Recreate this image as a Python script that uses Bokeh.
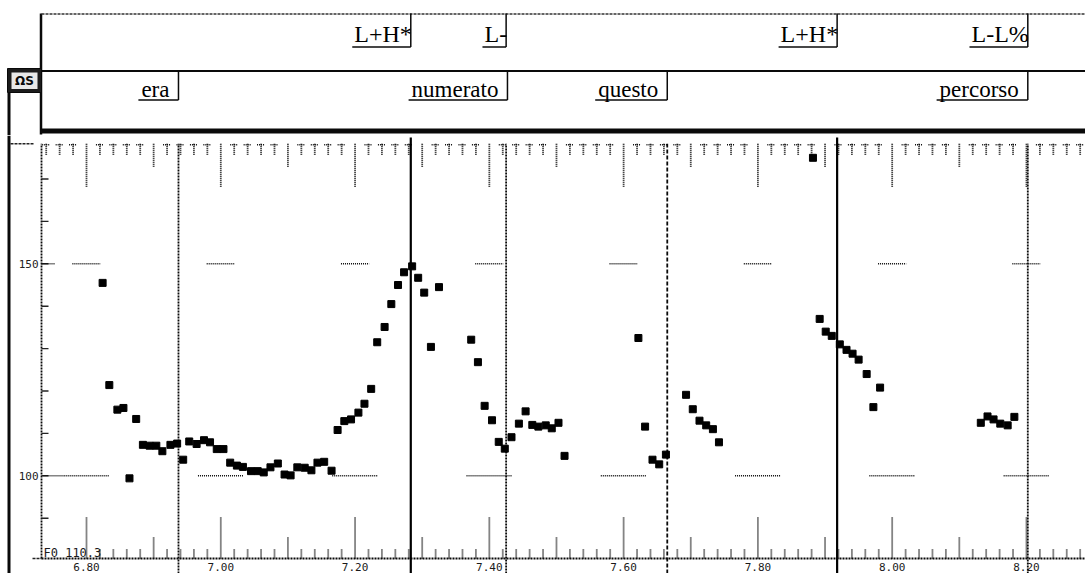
import numpy as np
from bokeh.plotting import figure
from bokeh.layouts import column
from bokeh.models import Range1d
from bokeh.core.properties import value
from bokeh.embed import file_html
from bokeh.resources import INLINE

# ---------------- data ----------------
f0_time = [6.824, 6.834, 6.846, 6.855, 6.864, 6.874, 6.884, 6.894, 6.904, 6.913,
           6.925, 6.935, 6.944, 6.953, 6.964, 6.975, 6.984, 6.994, 7.004, 7.014,
           7.024, 7.033, 7.045, 7.055, 7.064, 7.074, 7.085, 7.095, 7.104, 7.114,
           7.125, 7.135, 7.144, 7.154, 7.165, 7.174, 7.184, 7.194, 7.205, 7.214,
           7.224, 7.233, 7.244, 7.254, 7.264, 7.273, 7.285, 7.294, 7.303, 7.313,
           7.325, 7.373, 7.383, 7.393, 7.404, 7.414, 7.423, 7.433, 7.444, 7.454,
           7.464, 7.473, 7.484, 7.493, 7.503, 7.512, 7.622, 7.632, 7.643, 7.653,
           7.663, 7.693, 7.703, 7.713, 7.723, 7.733, 7.742, 7.882, 7.892, 7.901,
           7.910, 7.922, 7.932, 7.941, 7.950, 7.962, 7.972, 7.982, 8.132, 8.142,
           8.151, 8.161, 8.172, 8.182]
f0_hz = [145.5, 121.4, 115.6, 116.0, 99.4, 113.4, 107.3, 107.1, 107.1, 105.8,
         107.3, 107.6, 103.8, 108.1, 107.5, 108.4, 107.9, 106.3, 106.3, 103.1,
         102.4, 102.1, 101.1, 101.1, 100.8, 102.0, 102.9, 100.3, 100.1, 102.0,
         101.9, 101.3, 103.1, 103.3, 101.2, 110.8, 112.9, 113.3, 114.9, 117.0,
         120.5, 131.5, 135.1, 140.5, 145.0, 148.0, 149.4, 146.7, 143.2, 130.4,
         144.5, 132.1, 126.8, 116.5, 113.1, 108.0, 106.4, 109.1, 112.3, 115.2,
         112.0, 111.6, 111.9, 111.2, 112.5, 104.7, 132.5, 111.6, 103.8, 102.7,
         105.0, 119.1, 115.7, 113.0, 111.9, 111.0, 107.9, 175.0, 137.0, 134.0,
         133.0, 131.0, 129.7, 128.8, 127.4, 124.0, 116.2, 120.8, 112.5, 114.0,
         113.3, 112.3, 111.9, 113.9]

words = ["era", "numerato", "questo", "percorso"]
word_end = [6.937, 7.427, 7.665, 8.202]
tones = ["L+H*", "L-", "L+H*", "L-L%"]
tone_time = [7.283, 7.425, 7.918, 8.202]
tone_line_style = ["solid", "dotted", "solid", "dotted"]

x_ticks = [6.8, 7.0, 7.2, 7.4, 7.6, 7.8, 8.0, 8.2]
x_tick_labels = ["6.80", "7.00", "7.20", "7.40", "7.60", "7.80", "8.00", "8.20"]
y_ticks = [150, 100]
y_tick_labels = ["150", "100"]
f0_label = "F0 110.3"

# ---------------- calibration helpers (page px -> data) ----------------
PXS = 671.4          # px per second
def tx(x):
    return 6.8 + (x - 86) / PXS
def hz(y):
    return 150 - (y - 263.3) / 4.24
HZPX = 4.24

W = 1085
H_TIER = 135
H_PITCH = 573 - H_TIER
XR = Range1d(tx(0), tx(W))
INK = "#0a0a0a"
DOT = "2 1"

def mkfig(h, yr):
    f = figure(width=W, height=h, x_range=XR, y_range=yr, output_backend="svg",
               toolbar_location=None, x_axis_type=None, y_axis_type=None,
               outline_line_color=None, background_fill_color="white",
               border_fill_color="white")
    f.min_border_left = f.min_border_right = f.min_border_top = f.min_border_bottom = 0
    f.min_border = 0
    return f

# ---------------- tier figure (y in page px, flipped) ----------------
tier = mkfig(H_TIER, Range1d(H_TIER, 0))

serif = value("Liberation Serif")
times_w = {"e": .444, "r": .333, "a": .444, "n": .5, "u": .5, "m": .778, "t": .278,
           "o": .5, "q": .5, "s": .389, "p": .5, "c": .444, "L": .611, "+": .564,
           "H": .722, "*": .5, "-": .333, "%": .833}
def text_w(s, size):
    return sum(times_w.get(c, .5) for c in s) * size

# frame lines
tier.segment(x0=[tx(40.5)], y0=[13], x1=[tx(40.5)], y1=[134], line_width=2.5, color=INK)
tier.segment(x0=[tx(41)], y0=[13.5], x1=[XR.end], y1=[13.5], line_width=1.5,
             line_dash="3 1", color="#333333")
tier.segment(x0=[tx(41)], y0=[70.5], x1=[XR.end], y1=[70.5], line_width=2, color=INK)
tier.segment(x0=[tx(40)], y0=[130.5], x1=[XR.end], y1=[130.5], line_width=5, color=INK)
tier.segment(x0=[tx(8.5)], y0=[92], x1=[tx(8.5)], y1=[135], line_width=3, color=INK)

# icon
tier.quad(left=[tx(7)], right=[tx(41)], top=[68], bottom=[92], fill_color="#1c1c1c",
          line_color=INK)
tier.quad(left=[tx(11)], right=[tx(37)], top=[72], bottom=[88.5], fill_color="#e8e8e8",
          line_color=None)
tier.text(x=[tx(24)], y=[80.5], text=["ΩS"], text_align="center", text_baseline="middle",
          text_font=value("DejaVu Sans"), text_font_size="12px", text_font_style="bold",
          text_color=INK)

# word tier
W_SIZE = 23
W_OFF = 9
tier.segment(x0=word_end, y0=[70] * len(words), x1=word_end, y1=[99.5] * len(words),
             line_width=1.5, color=INK)
tier.segment(x0=[t - (W_OFF + text_w(s, W_SIZE) + 3) / PXS for t, s in zip(word_end, words)],
             y0=[99.5] * len(words), x1=word_end, y1=[99.5] * len(words),
             line_width=1.5, color=INK)
tier.text(x=word_end, y=[88.5] * len(words), text=words, x_offset=-W_OFF,
          text_align="right", text_baseline="middle", text_font=serif,
          text_font_size=f"{W_SIZE}px", text_color="#000000")

# tone tier
T_SIZE = 24
tier.segment(x0=tone_time, y0=[13] * len(tones), x1=tone_time, y1=[46.5] * len(tones),
             line_width=1.5, color=INK)
tier.segment(x0=[t - (text_w(s, T_SIZE) + 1) / PXS for t, s in zip(tone_time, tones)],
             y0=[46.5] * len(tones), x1=tone_time, y1=[46.5] * len(tones),
             line_width=1.5, color=INK)
tier.text(x=tone_time, y=[33] * len(tones), text=tones, x_offset=1,
          text_align="right", text_baseline="middle", text_font=serif,
          text_font_size=f"{T_SIZE}px", text_color="#000000")

# ---------------- pitch figure (y in Hz) ----------------
p = mkfig(H_PITCH, Range1d(hz(573), hz(H_TIER)))
TOP = hz(143.3)
BOT = hz(558)

# left thick bar
p.segment(x0=[tx(8.5)], y0=[hz(135)], x1=[tx(8.5)], y1=[hz(573)], line_width=3, color=INK)
# small outer dashes
p.segment(x0=[tx(10), tx(32)], y0=[TOP, BOT], x1=[tx(33), tx(41)], y1=[TOP, BOT],
          line_width=1.6, line_dash="3 1", color="#222222")
# y axis
p.segment(x0=[tx(41)], y0=[BOT], x1=[tx(41)], y1=[TOP], line_width=1.8, line_dash=DOT,
          color=INK)
yt = list(range(90, 171, 10))
p.segment(x0=[tx(41)] * len(yt), y0=yt, x1=[tx(48)] * len(yt), y1=yt, line_width=1.4,
          color="#222222")
p.text(x=[tx(38)] * len(y_ticks), y=y_ticks, text=y_tick_labels, text_align="right",
       text_baseline="middle", text_font=value("DejaVu Sans Mono"), text_font_size="11px",
       text_color="#222222")

# bottom axis line
p.segment(x0=[tx(41)], y0=[BOT], x1=[XR.end], y1=[BOT], line_width=1.8, line_dash=DOT,
          color=INK)

# ticks (bottom: up, top: down)
bx0, by0, by1 = [], [], []
tx0, ty1 = [], []
cap_x0, cap_x1, cap_y = [], [], []
for k in range(674, 830, 2):
    t = k / 100.0
    if k % 20 == 0:
        lb, lt = 41, 43
    elif k % 10 == 0:
        lb, lt = 21, 23
    else:
        lb, lt = 9, 11
        cap_x0.append(t - 4 / PXS)
        cap_x1.append(t + 4 / PXS)
        cap_y.append(TOP - 0.2)
    if k >= 680:
        bx0.append(t); by0.append(BOT); by1.append(BOT + lb / HZPX)
    tx0.append(t); ty1.append(TOP - lt / HZPX)
p.segment(x0=bx0, y0=by0, x1=bx0, y1=by1, line_width=1.8, line_dash="1 1", color=INK)
p.segment(x0=tx0, y0=[TOP] * len(tx0), x1=tx0, y1=ty1, line_width=1.8, line_dash="1 1",
          color=INK)
p.segment(x0=cap_x0, y0=cap_y, x1=cap_x1, y1=cap_y, line_width=1.5, line_dash="1 1",
          color=INK)

# reference guide dashes at 150 and 100 Hz
g150 = [(t - 0.021, t + 0.021) for t in x_ticks] + [(tx(41), tx(55))]
g100 = [(t - 0.034, t + 0.034) for t in x_ticks] + [(tx(43), x_ticks[0] - 0.034)]
p.segment(x0=[a for a, b in g150], y0=[y_ticks[0]] * len(g150), x1=[b for a, b in g150],
          y1=[y_ticks[0]] * len(g150), line_width=1.6, line_dash="1 1", color=INK)
p.segment(x0=[a for a, b in g100], y0=[y_ticks[1]] * len(g100), x1=[b for a, b in g100],
          y1=[y_ticks[1]] * len(g100), line_width=1.6, line_dash="1 1", color=INK)

# boundary lines through the pitch area
for t, st in zip(tone_time, tone_line_style):
    if st == "solid":
        p.segment(x0=[t], y0=[hz(573)], x1=[t], y1=[hz(137)], line_width=2.2, color="#000000")
    else:
        p.segment(x0=[t], y0=[hz(573)], x1=[t], y1=[TOP], line_width=1.8, line_dash=DOT,
                  color=INK)
p.segment(x0=[word_end[0]], y0=[hz(573)], x1=[word_end[0]], y1=[TOP], line_width=1.8,
          line_dash=DOT, color=INK)
p.segment(x0=[word_end[2]], y0=[hz(573)], x1=[word_end[2]], y1=[TOP], line_width=1.8,
          line_dash="4 2", color=INK)

# F0 points
p.scatter(x=f0_time, y=f0_hz, marker="square", size=7, fill_color="#000000",
          line_color="#000000")

# labels
p.text(x=[tx(43)], y=[hz(552)], text=[f0_label], text_align="left",
       text_baseline="middle", text_font=value("DejaVu Sans Mono"),
       text_font_size="12px", text_color="#1a1a1a")
p.text(x=x_ticks, y=[hz(566)] * len(x_ticks), text=x_tick_labels, text_align="center",
       text_baseline="middle", text_font=value("DejaVu Sans Mono"), text_font_size="11px",
       text_color="#1a1a1a")

layout = column(tier, p, spacing=0)
open("out.html", "w").write(file_html(layout, INLINE))
